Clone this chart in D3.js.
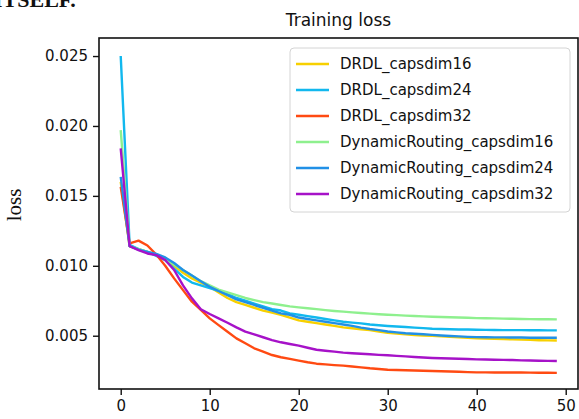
<!DOCTYPE html>
<html>
<head>
<meta charset="utf-8">
<script src="https://cdn.jsdelivr.net/npm/d3@7"></script>
<style>
  body { margin: 0; background: #fff; }
  svg { display: block; }
</style>
</head>
<body>
<script>
// epochs 0..49
const epochs = d3.range(0, 50);

const drdl16 = [0.0160, 0.0114, 0.0112, 0.0110, 0.01075, 0.0105, 0.0100, 0.0095, 0.0091, 0.0088,
  0.0085, 0.0081, 0.0077, 0.0074, 0.0072, 0.0070, 0.0068, 0.00665, 0.0065, 0.0063,
  0.0061, 0.0060, 0.0059, 0.0058, 0.0057, 0.0056, 0.00553, 0.00546, 0.0054, 0.0053,
  0.0052, 0.00515, 0.0051, 0.00505, 0.00502, 0.0050, 0.00496, 0.00492, 0.00488, 0.00485,
  0.00482, 0.0048, 0.00478, 0.00476, 0.00474, 0.00472, 0.0047, 0.00468, 0.00467, 0.00466];

const drdl24 = [0.0250, 0.0115, 0.0112, 0.0110, 0.0107, 0.0104, 0.0098, 0.0092, 0.0088, 0.0086,
  0.0084, 0.0082, 0.0080, 0.0077, 0.0075, 0.0073, 0.0071, 0.0069, 0.0068, 0.0066,
  0.0065, 0.0064, 0.0063, 0.0062, 0.0061, 0.0060, 0.00594, 0.00588, 0.0058, 0.00575,
  0.0057, 0.00566, 0.00562, 0.00558, 0.00554, 0.0055, 0.00548, 0.00546, 0.00545, 0.00544,
  0.00543, 0.00542, 0.00541, 0.0054, 0.0054, 0.0054, 0.00539, 0.00539, 0.00538, 0.00538];

const drdl32 = [0.01564, 0.0116, 0.0118, 0.01145, 0.0108, 0.0100, 0.0091, 0.00826, 0.00743, 0.00684,
  0.00624, 0.00576, 0.00529, 0.00481, 0.00446, 0.0041, 0.00386, 0.00362, 0.00346, 0.00334,
  0.00322, 0.0031, 0.003, 0.00295, 0.0029, 0.00286, 0.0028, 0.00274, 0.00267, 0.00262,
  0.00257, 0.00255, 0.00253, 0.00251, 0.00249, 0.00248, 0.00246, 0.00244, 0.00242, 0.0024,
  0.00238, 0.00238, 0.00237, 0.00237, 0.00237, 0.00237, 0.00236, 0.00235, 0.00235, 0.00234];

const dr16 = [0.0197, 0.0114, 0.0112, 0.0110, 0.0108, 0.0105, 0.0101, 0.0097, 0.0093, 0.0089,
  0.0086, 0.0083, 0.0081, 0.0079, 0.0077, 0.00755, 0.0074, 0.0073, 0.0072, 0.0071,
  0.00703, 0.00696, 0.0069, 0.00683, 0.00677, 0.00672, 0.00667, 0.00662, 0.00658, 0.00654,
  0.0065, 0.00647, 0.00644, 0.00641, 0.00638, 0.00636, 0.00634, 0.00632, 0.0063, 0.00628,
  0.00626, 0.00625, 0.00624, 0.00622, 0.00621, 0.0062, 0.00619, 0.00618, 0.00618, 0.00617];

const dr24 = [0.01636, 0.0114, 0.01115, 0.0110, 0.01085, 0.0106, 0.0102, 0.0097, 0.0093, 0.0089,
  0.0085, 0.0082, 0.0079, 0.0076, 0.0074, 0.0072, 0.0070, 0.0068, 0.0066, 0.0065,
  0.0063, 0.0062, 0.0061, 0.006, 0.0059, 0.0058, 0.0057, 0.00558, 0.00548, 0.0054,
  0.0053, 0.00524, 0.00518, 0.00514, 0.0051, 0.00506, 0.00502, 0.00498, 0.00495, 0.00492,
  0.0049, 0.00489, 0.00488, 0.00488, 0.00487, 0.00487, 0.00486, 0.00486, 0.00485, 0.00485];

const dr32 = [0.01839, 0.0114, 0.01112, 0.01088, 0.01076, 0.01041, 0.0097, 0.0086, 0.00767, 0.00689,
  0.00655, 0.00624, 0.00593, 0.0056, 0.00529, 0.0051, 0.00489, 0.00469, 0.00453, 0.00441,
  0.00429, 0.00414, 0.004, 0.00393, 0.00386, 0.00379, 0.00375, 0.00371, 0.00367, 0.00363,
  0.0036, 0.00356, 0.00352, 0.00348, 0.00344, 0.00341, 0.00339, 0.00337, 0.00335, 0.00333,
  0.00331, 0.0033, 0.00328, 0.00327, 0.00326, 0.00324, 0.00323, 0.00321, 0.0032, 0.00319];

const names = ["DRDL_capsdim16", "DRDL_capsdim24", "DRDL_capsdim32",
  "DynamicRouting_capsdim16", "DynamicRouting_capsdim24", "DynamicRouting_capsdim32"];
const colors = ["#f7d000", "#12b8ee", "#ff4a12", "#8ef08e", "#2190e6", "#a612c8"];
const xTicks = [0, 10, 20, 30, 40, 50];
const yTicks = [0.005, 0.010, 0.015, 0.020, 0.025];

const series = [drdl16, drdl24, drdl32, dr16, dr24, dr32];

const w = 579, h = 419;
const padL = 99, padR = 578, padT = 38, padB = 389;

const svg = d3.select("body")
  .append("svg")
  .attr("width", w)
  .attr("height", h);

// cropped text from the page above
svg.append("text")
  .attr("x", -6)
  .attr("y", 7)
  .text("ITSELF.")
  .style("font-family", "Liberation Serif")
  .style("font-weight", "bold")
  .style("font-size", "22px")
  .attr("fill", "#111");

const xScale = d3.scaleLinear()
  .domain([-2.44, 51.38])
  .range([padL, padR]);

const yScale = d3.scaleLinear()
  .domain([0.00119, 0.02629])
  .range([padB, padT]);

const line = d3.line()
  .x((d, i) => xScale(epochs[i]))
  .y(d => yScale(d));

svg.append("g")
  .selectAll("path")
  .data(series)
  .enter()
  .append("path")
  .attr("d", d => line(d))
  .attr("fill", "none")
  .attr("stroke", (d, i) => colors[i])
  .attr("stroke-width", 2.4)
  .attr("stroke-linejoin", "round");

// frame
svg.append("rect")
  .attr("x", padL)
  .attr("y", padT)
  .attr("width", padR - padL)
  .attr("height", padB - padT)
  .attr("fill", "none")
  .attr("stroke", "#111")
  .attr("stroke-width", 1.6);

const xAxis = d3.axisBottom(xScale).tickValues(xTicks).tickSize(6).tickPadding(5).tickFormat(d3.format("d"));
const yAxis = d3.axisLeft(yScale).tickValues(yTicks).tickSize(6).tickPadding(5).tickFormat(d3.format(".3f"));

const gx = svg.append("g")
  .attr("transform", "translate(0," + padB + ")")
  .call(xAxis);
const gy = svg.append("g")
  .attr("transform", "translate(" + padL + ",0)")
  .call(yAxis);

[gx, gy].forEach(g => {
  g.select(".domain").remove();
  g.selectAll("line").attr("stroke", "#111").attr("stroke-width", 1.4);
  g.selectAll("text")
    .attr("fill", "#111")
    .style("font-family", "DejaVu Sans")
    .style("font-size", "15px");
});

svg.append("text")
  .attr("x", (padL + padR) / 2)
  .attr("y", 26)
  .attr("text-anchor", "middle")
  .text("Training loss")
  .style("font-family", "DejaVu Sans")
  .style("font-size", "17px")
  .attr("fill", "#111");

svg.append("text")
  .attr("transform", "translate(21,205) rotate(-90)")
  .attr("text-anchor", "middle")
  .text("loss")
  .style("font-family", "Liberation Serif")
  .style("font-size", "21px")
  .attr("fill", "#111");

// legend
const lg = svg.append("g");
lg.append("rect")
  .attr("x", 290)
  .attr("y", 48)
  .attr("width", 280)
  .attr("height", 164)
  .attr("rx", 4)
  .attr("fill", "#fff")
  .attr("fill-opacity", 0.85)
  .attr("stroke", "#d4d4d4")
  .attr("stroke-width", 1);

const rows = lg.selectAll("g.row")
  .data(names)
  .enter()
  .append("g")
  .attr("class", "row")
  .attr("transform", (d, i) => "translate(0," + (64 + i * 26) + ")");

rows.append("line")
  .attr("x1", 296)
  .attr("x2", 329)
  .attr("stroke", (d, i) => colors[i])
  .attr("stroke-width", 2.4);

rows.append("text")
  .attr("x", 340)
  .attr("y", 5)
  .text(d => d)
  .style("font-family", "DejaVu Sans")
  .style("font-size", "15px")
  .attr("fill", "#111");
</script>
</body>
</html>
